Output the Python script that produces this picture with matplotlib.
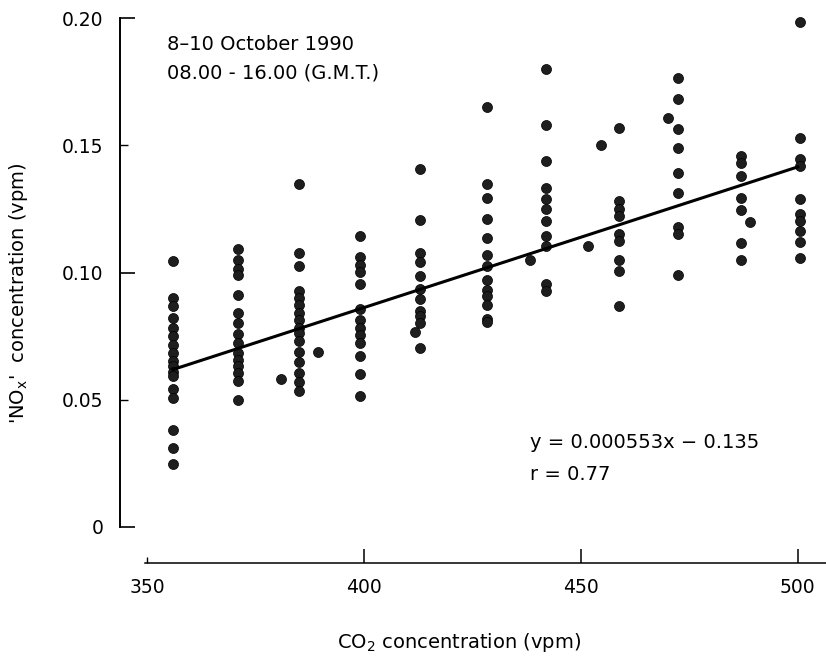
import matplotlib
matplotlib.use("Agg")
import matplotlib.pyplot as plt
import numpy as np

plt.rcParams['font.family'] = ['DejaVu Sans']
plt.rcParams['mathtext.default'] = 'regular'

# CO2 (vpm) of each sampling column and the 'NOx' readings (vpm) in it
col_x = [356, 371, 385, 399, 413, 428.4, 442, 458.7, 472.3, 487, 500.6]
col_y = [
    [0.1045, 0.0900, 0.0867, 0.0822, 0.0782, 0.0749, 0.0717, 0.0684, 0.0651,
     0.0631, 0.0611, 0.0592, 0.0543, 0.0507, 0.0382, 0.0312, 0.0247],
    [0.1093, 0.1051, 0.1012, 0.0992, 0.0913, 0.0841, 0.0802, 0.0759, 0.0723,
     0.0684, 0.0657, 0.0631, 0.0605, 0.0572, 0.0500],
    [0.1346, 0.1075, 0.1025, 0.0926, 0.0900, 0.0874, 0.0841, 0.0815, 0.0782,
     0.0762, 0.0730, 0.0686, 0.0647, 0.0607, 0.0568, 0.0533],
    [0.1143, 0.1060, 0.1031, 0.1001, 0.0955, 0.0857, 0.0812, 0.0782, 0.0756,
     0.0723, 0.0671, 0.0602, 0.0515],
    [0.1408, 0.1206, 0.1078, 0.1042, 0.0986, 0.0937, 0.0894, 0.0848, 0.0830,
     0.0802, 0.0704],
    [0.1652, 0.1346, 0.1294, 0.1211, 0.1137, 0.1067, 0.1025, 0.0972, 0.0933,
     0.0907, 0.0874, 0.0818, 0.0805],
    [0.1799, 0.1579, 0.1438, 0.1333, 0.1290, 0.1248, 0.1202, 0.1143, 0.1106,
     0.0953, 0.0926],
    [0.1566, 0.1281, 0.1251, 0.1222, 0.1150, 0.1123, 0.1048, 0.1005, 0.0870],
    [0.1766, 0.1681, 0.1563, 0.1491, 0.1390, 0.1314, 0.1178, 0.1150, 0.0992],
    [0.1458, 0.1432, 0.1379, 0.1294, 0.1245, 0.1114, 0.1051],
    [0.1983, 0.1530, 0.1445, 0.1419, 0.1287, 0.1228, 0.1202, 0.1163, 0.1119,
     0.1058],
]
# odd points between the columns
extra_x = [381, 389.5, 411.8, 438.3, 451.6, 454.6, 470, 489]
extra_y = [0.0581, 0.0686, 0.0767, 0.1051, 0.1106, 0.1500, 0.1609, 0.1198]

# regression from the figure
slope, intercept = 0.000553, -0.135
fit_x = [356, 500]

fig = plt.figure(figsize=(8.26, 6.6), dpi=100)
ax = fig.add_axes([120 / 826, 133 / 660, 706 / 826, 509 / 660])

xs = []
ys = []
for cx, cy in zip(col_x, col_y):
    xs += [cx] * len(cy)
    ys += cy
xs += extra_x
ys += extra_y
ax.scatter(xs, ys, s=52, color='#1e1e1e', edgecolors='#000000',
           linewidths=0.5, clip_on=False, zorder=3)

fx = np.array(fit_x, dtype=float)
ax.plot(fx, slope * fx + intercept, color='black', lw=2.2, zorder=4)

ax.set_xlim(343.8, 506.5)
ax.set_ylim(0, 0.2)

for s in ['top', 'right']:
    ax.spines[s].set_visible(False)
ax.spines['left'].set_bounds(0, 0.2)
ax.spines['left'].set_linewidth(1.4)
ax.spines['bottom'].set_position(('outward', 26))
ax.spines['bottom'].set_bounds(349.5, 506.5)
ax.spines['bottom'].set_linewidth(1.1)

ax.set_yticks([0, 0.1, 0.2])
ax.set_yticklabels(['0', '0.10', '0.20'])
ax.set_yticks([0.05, 0.15], minor=True)
ax.set_yticklabels(['0.05', '0.15'], minor=True)
ax.set_xticks([400, 450, 500])
ax.set_xticks([350], minor=True)
ax.set_xticklabels(['400', '450', '500'])
ax.set_xticklabels(['350'], minor=True)

ax.tick_params(axis='y', which='major', direction='in', length=11, width=1.2,
               pad=12, labelsize=13.5)
ax.tick_params(axis='y', which='minor', direction='in', length=6, width=1.0,
               pad=12, labelsize=13.5)
ax.tick_params(axis='x', which='major', direction='in', length=10, width=1.1,
               pad=11, labelsize=13.5)
ax.tick_params(axis='x', which='minor', direction='in', length=4, width=1.0,
               pad=11, labelsize=13.5)

ax.set_xlabel('CO$_2$ concentration (vpm)', fontsize=14)
ax.xaxis.set_label_coords(0.48, -0.205)
ax.set_ylabel("'NO$_x$'  concentration (vpm)", fontsize=14)
ax.yaxis.set_label_coords(-0.128, 0.46)

ax.text(47 / 706, 1 - 27 / 509, '8\u201310 October 1990', fontsize=14,
        transform=ax.transAxes, va='center', ha='left')
ax.text(47 / 706, 1 - 55 / 509, '08.00 - 16.00 (G.M.T.)', fontsize=14,
        transform=ax.transAxes, va='center', ha='left')
ax.text(410 / 706, 1 - 425 / 509, 'y = 0.000553x \u2212 0.135', fontsize=14,
        transform=ax.transAxes, va='center', ha='left')
ax.text(410 / 706, 1 - 456 / 509, 'r = 0.77', fontsize=14,
        transform=ax.transAxes, va='center', ha='left')

fig.savefig('out.png', dpi=100)
